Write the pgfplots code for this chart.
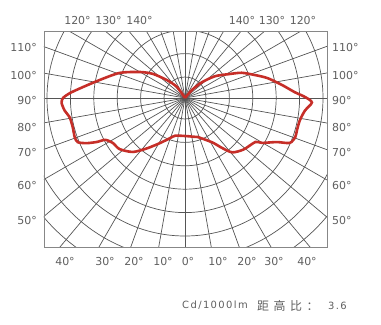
\documentclass[border=0pt]{standalone}
\usepackage{fontspec}
\usepackage{pgfplots}
\usepackage{pgfplotstable}
\pgfplotsset{compat=1.18}
\setmainfont{DejaVu Sans}
\newfontfamily\lab{DejaVu Sans}
\newfontfamily\labsp[LetterSpace=14]{DejaVu Sans}
\newfontfamily\cjk[LetterSpace=38]{Noto Sans CJK SC}
\definecolor{curve}{RGB}{198,46,40}
\definecolor{gridc}{RGB}{85,85,85}
\definecolor{framec}{RGB}{135,135,135}
\definecolor{txt}{RGB}{95,95,95}
\pgfplotstableread{
phi r
-180 0
-144 13.6
-135 25
-127 40
-120 52
-111 70
-102 87
-96 103
-92.5 115
-90 122
-87.7 123.5
-84 121
-80.6 117
-75.5 116
-70.5 117
-67.6 116
-65.3 108
-63.4 98
-62.3 90
-58 85
-52 83
-44 75
-37 63
-29 51.5
-20.6 43
-14.7 39
0 38
14 40
18 41
31.5 52
36.5 62
41 72
48.7 78
58 83
59.7 89
64.4 102
66.8 114
70.5 117
74 116.5
79 117
84 120.6
88 127
90.5 120
93 110
97.6 98
103.5 85
108 74
114 62
119 49
126 37
133 23
139 10.6
180 0
}\lightdata
\begin{document}
\begin{tikzpicture}[x=1bp, y=1bp]
% polar grid (decoration), centred on the axis origin
\begin{scope}
\clip (-141,-149) rectangle (142,67);
\foreach \rr in {21,44.4,67.8,91.2,114.6,138,161.4,184.8,208.2,231.6}{
  \draw[gridc, line width=0.7bp] (0,0) circle[radius=\rr];
}
\foreach \a in {0,10,...,350}{
  \draw[gridc, line width=0.7bp] (0,0) -- (\a:300);
}
\end{scope}
\begin{axis}[
  anchor=origin, at={(0,0)},
  x=1bp, y=1bp,
  xmin=-141, xmax=142, ymin=-149, ymax=67,
  xtick=\empty, ytick=\empty,
  axis line style={draw=framec, line width=0.9bp},
  clip=false,
]
\addplot[curve, line width=2.6bp, smooth, tension=0.45]
  table[x expr={\thisrow{r}*sin(\thisrow{phi})}, y expr={-\thisrow{r}*cos(\thisrow{phi})}] {\lightdata};
\end{axis}
\begin{scope}[font=\lab\fontsize{11}{13}\selectfont]
\foreach \t/\yy in {110°/50.3,100°/22,90°/-3,80°/-29.5,70°/-54.5,60°/-88,50°/-123}{
  \node[anchor=east, text=txt, inner sep=0pt] at (-148,\yy) {\t};
  \node[anchor=west, text=txt, inner sep=0pt] at (147,\yy) {\t};
}
\foreach \t/\xx in {40°/-120,30°/-80,20°/-51,10°/-22,0°/3,10°/33,20°/62,30°/89,40°/122}{
  \node[text=txt, inner sep=0pt] at (\xx,-163.5) {\t};
}
\foreach \t/\xx in {120°/-107.5,130°/-76.5,140°/-45.5,140°/57,130°/87,120°/118}{
  \node[text=txt, inner sep=0pt] at (\xx,77) {\t};
}
\end{scope}
\node[anchor=west, text=txt, inner sep=0pt, font=\labsp\fontsize{10}{12}\selectfont] at (-3,-207.5) {Cd/1000lm};
\node[anchor=west, text=txt, inner sep=0pt, font=\cjk\fontsize{12}{14}\selectfont] at (72,-207.5) {距高比：};
\node[anchor=west, text=txt, inner sep=0pt, font=\labsp\fontsize{10}{12}\selectfont] at (143,-207.5) {3.6};
\pgfresetboundingbox
\path[use as bounding box] (-185,-227) rectangle (196,98);
\end{tikzpicture}
\end{document}
